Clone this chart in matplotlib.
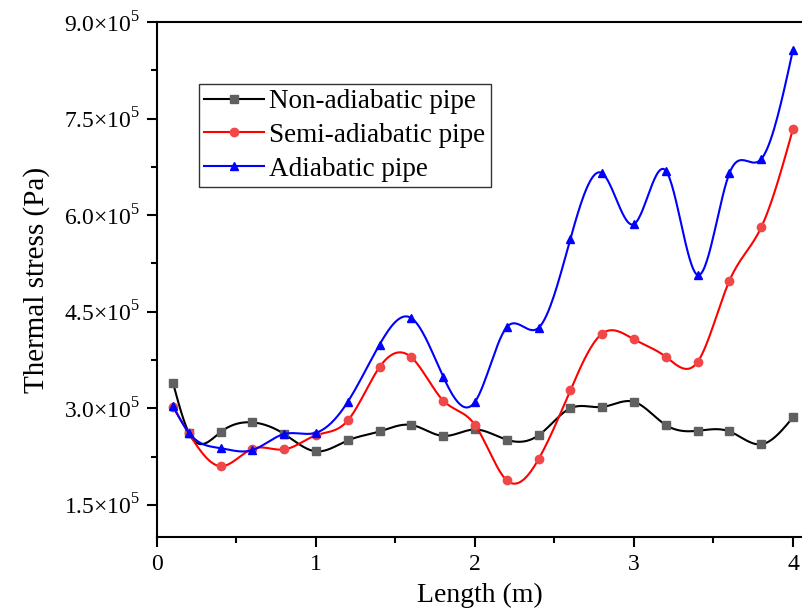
import numpy as np
import matplotlib
matplotlib.use('Agg')
import matplotlib.pyplot as plt
from matplotlib.ticker import MultipleLocator, FuncFormatter

plt.rcParams['font.family'] = ['Liberation Serif', 'DejaVu Serif']
plt.rcParams['mathtext.fontset'] = 'custom'
plt.rcParams['mathtext.rm'] = 'Liberation Serif'

# data (stress in 1e5 Pa)
length = [0.1, 0.2, 0.4, 0.6, 0.8, 1.0, 1.2, 1.4, 1.6, 1.8, 2.0,
          2.2, 2.4, 2.6, 2.8, 3.0, 3.2, 3.4, 3.6, 3.8, 4.0]
non_adiabatic = [3.40, 2.62, 2.63, 2.78, 2.60, 2.33, 2.50, 2.64, 2.74, 2.57, 2.67,
                 2.51, 2.58, 3.00, 3.02, 3.10, 2.74, 2.65, 2.64, 2.44, 2.86]
semi_adiabatic = [3.02, 2.61, 2.10, 2.37, 2.36, 2.58, 2.81, 3.64, 3.79, 3.12, 2.74,
                  1.88, 2.21, 3.28, 4.16, 4.07, 3.80, 3.72, 4.98, 5.81, 7.34]
adiabatic = [3.04, 2.62, 2.38, 2.35, 2.60, 2.62, 3.10, 3.99, 4.40, 3.49, 3.10,
             4.26, 4.25, 5.63, 6.65, 5.86, 6.69, 5.07, 6.65, 6.87, 8.57]
labels = ['Non-adiabatic pipe', 'Semi-adiabatic pipe', 'Adiabatic pipe']


def spline(x, y, n=600):
    # natural cubic spline through the points
    x = np.asarray(x, float)
    y = np.asarray(y, float)
    k = len(x)
    h = np.diff(x)
    A = np.zeros((k, k))
    b = np.zeros(k)
    A[0, 0] = A[-1, -1] = 1
    for i in range(1, k - 1):
        A[i, i - 1] = h[i - 1]
        A[i, i] = 2 * (h[i - 1] + h[i])
        A[i, i + 1] = h[i]
        b[i] = 6 * ((y[i + 1] - y[i]) / h[i] - (y[i] - y[i - 1]) / h[i - 1])
    M = np.linalg.solve(A, b)
    xs = np.linspace(x[0], x[-1], n)
    idx = np.clip(np.searchsorted(x, xs) - 1, 0, k - 2)
    x0, x1 = x[idx], x[idx + 1]
    hh = x1 - x0
    t0, t1 = x1 - xs, xs - x0
    ys = (M[idx] * t0 ** 3 + M[idx + 1] * t1 ** 3) / (6 * hh) \
        + (y[idx] / hh - M[idx] * hh / 6) * t0 + (y[idx + 1] / hh - M[idx + 1] * hh / 6) * t1
    return xs, ys


fig = plt.figure(figsize=(8.03, 6.15), dpi=100)
ax = fig.add_axes([157 / 803, 1 - 537 / 615, (803 - 157) / 803, (537 - 22) / 615])

styles = [('black', '#606060', 's'), ('red', '#f04848', 'o'), ('blue', 'blue', '^')]
for vals, lab, (lc, mc, mk) in zip([non_adiabatic, semi_adiabatic, adiabatic], labels, styles):
    xs, ys = spline(length, vals)
    ax.plot(xs, np.array(ys) * 1e5, color=lc, lw=1.5)
    ax.plot(length, np.array(vals) * 1e5, ls='none', marker=mk, color=mc, ms=6)
    ax.plot([], [], color=lc, lw=1.5, marker=mk, mfc=mc, mec=mc, ms=6, label=lab)

ax.set_xlim(0, (803 - 157) / 159)
ax.set_ylim(1.0e5, 9.0e5)
ax.xaxis.set_major_locator(MultipleLocator(1))
ax.xaxis.set_minor_locator(MultipleLocator(0.5))
ax.yaxis.set_major_locator(MultipleLocator(1.5e5))
ax.yaxis.set_minor_locator(MultipleLocator(0.75e5))
ax.yaxis.set_major_formatter(FuncFormatter(lambda v, p: '%.1f×10$^{5}$' % (v / 1e5)))

ax.spines['right'].set_visible(False)
for s in ['left', 'bottom', 'top']:
    ax.spines[s].set_linewidth(1.5)
ax.tick_params(which='major', direction='out', length=7, width=1.5, labelsize=17,
               pad=5, top=False, right=False)
ax.tick_params(which='minor', direction='out', length=4, width=1.5, top=False, right=False)

ax.set_xlabel('Length (m)', fontsize=20, labelpad=6)
ax.set_ylabel('Thermal stress (Pa)', fontsize=21, labelpad=10)

leg = ax.legend(loc='upper left', bbox_to_anchor=(0.065, 0.88), fontsize=19.5, frameon=True,
                fancybox=False, edgecolor='black', handlelength=2.2, handletextpad=0.2,
                borderpad=0.2, labelspacing=0.32, borderaxespad=0)
leg.get_frame().set_linewidth(1.0)

fig.savefig('out.png', dpi=100)
